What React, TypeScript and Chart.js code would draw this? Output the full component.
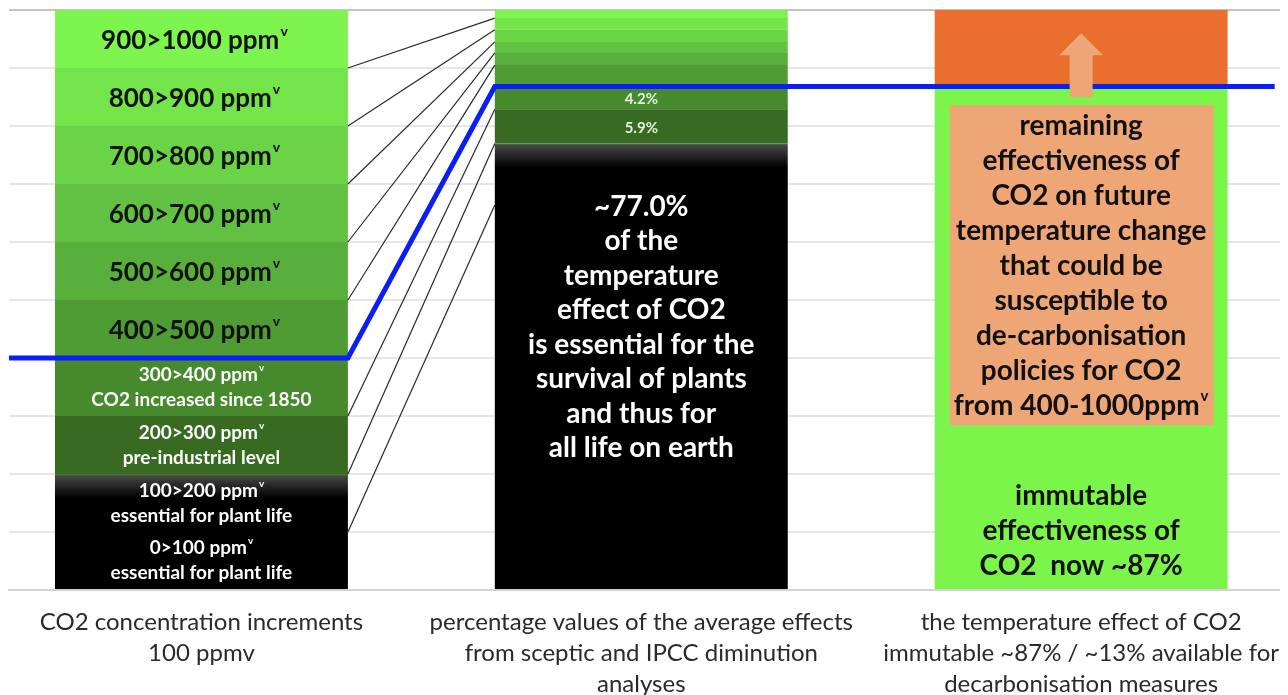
import React, { useEffect, useRef } from 'react';
import { Chart, registerables } from 'chart.js';

Chart.register(...registerables);

const FONT = 'Lato, "Open Sans", sans-serif';

// x-axis categories (three bars)
const CATEGORY_LABELS: string[][] = [
  ['CO2 concentration increments', '100 ppmv'],
  ['percentage values of the average effects', 'from sceptic and IPCC diminution', 'analyses'],
  ['the temperature effect of CO2', 'immutable ~87% / ~13% available for', 'decarbonisation measures'],
];

// left bar: CO2 concentration increments of 100 ppmv (bottom → top)
const LEFT_VALUES = [10, 10, 10, 10, 10, 10, 10, 10, 10, 10];
const LEFT_LABELS: string[][] = [
  ['0>100 ppm^v', 'essential for plant life'],
  ['100>200 ppm^v', 'essential for plant life'],
  ['200>300 ppm^v', 'pre-industrial level'],
  ['300>400 ppm^v', 'CO2 increased since 1850'],
  ['400>500 ppm^v'],
  ['500>600 ppm^v'],
  ['600>700 ppm^v'],
  ['700>800 ppm^v'],
  ['800>900 ppm^v'],
  ['900>1000 ppm^v'],
];

// middle bar: % of the CO2 temperature effect per increment (bottom → top)
const MIDDLE_VALUES = [66.4, 10.6, 5.9, 4.2, 3.4, 2.1, 1.9, 2.1, 2.0, 1.4];
const MIDDLE_LABELS = ['', '', '5.9%', '4.2%', '', '', '', '', '', ''];
const MIDDLE_TEXT = [
  '~77.0%', 'of the', 'temperature', 'effect of CO2', 'is essential for the',
  'survival of plants', 'and thus for', 'all life on earth',
];

// right bar: immutable / remaining effectiveness
const RIGHT_VALUES = [87, 13];
const RIGHT_BOX_TEXT = [
  'remaining', 'effectiveness of', 'CO2 on future', 'temperature change', 'that could be',
  'susceptible to', 'de-carbonisation', 'policies for CO2', 'from 400-1000ppm^v',
];
const RIGHT_BASE_TEXT = ['immutable', 'effectiveness of', 'CO2  now ~87%'];

// blue "current level" line: 400 ppmv on the left bar, ~87% on middle/right bars
const CURRENT_LINE_Y = [40, 40, 86.8, 86.8];

// colours per increment (bottom → top)
const INCREMENT_COLORS = ['#000000', '#000000', '#386B21', '#47892D', '#4F9C34', '#58AF3B', '#62C142', '#6AD346', '#73E44A', '#7EF54E'];
const FADE_INDEX = 1;
const RIGHT_COLORS = ['#7CF54B', '#EA6E2E'];
const SALMON = '#EFA676';

const X_MIN = -0.4375;
const X_MAX = 2.4693;
const BAR_FRAC = 0.666;

function cumulative(values: number[]): number[][] {
  let acc = 0;
  return values.map((v) => {
    const seg = [acc, acc + v];
    acc += v;
    return seg;
  });
}

const fadeBg = (c: any) => {
  const chart = c.chart;
  const raw = c.raw;
  if (!chart.chartArea || !raw || !chart.scales.y) return '#000';
  const top = chart.scales.y.getPixelForValue(raw.y[1]);
  if (!isFinite(top)) return '#000';
  const g = chart.ctx.createLinearGradient(0, top, 0, top + 24);
  g.addColorStop(0, '#4d7a38');
  g.addColorStop(0.1, '#454545');
  g.addColorStop(1, '#000000');
  return g;
};

function drawLine(ctx: CanvasRenderingContext2D, text: string, cx: number, cy: number, size: number, weight: string, color: string) {
  const sup = text.endsWith('^v');
  const main = sup ? text.slice(0, -2) : text;
  ctx.font = `${weight} ${size}px ${FONT}`;
  const w = ctx.measureText(main).width;
  const supSize = Math.round(size * 0.55);
  let supW = 0;
  if (sup) {
    ctx.font = `${weight} ${supSize}px ${FONT}`;
    supW = ctx.measureText('v').width + 1;
  }
  const start = cx - (w + supW) / 2;
  ctx.fillStyle = color;
  ctx.textBaseline = 'middle';
  ctx.textAlign = 'left';
  ctx.font = `${weight} ${size}px ${FONT}`;
  ctx.fillText(main, start, cy);
  if (sup) {
    ctx.font = `${weight} ${supSize}px ${FONT}`;
    ctx.fillText('v', start + w + 1, cy - size * 0.36);
  }
}

function drawBlock(ctx: CanvasRenderingContext2D, lines: string[], cx: number, cy: number, size: number, lh: number, weight: string, color: string) {
  const n = lines.length;
  lines.forEach((t, i) => drawLine(ctx, t, cx, cy + (i - (n - 1) / 2) * lh, size, weight, color));
}

function makeTextPlugin(groups: { left: number[]; mid: number[]; right: number[] }) {
  return {
    id: 'textPlugin',
    afterDatasetsDraw(chart: any) {
      const ctx: CanvasRenderingContext2D = chart.ctx;
      const ys = chart.scales.y;
      ctx.save();
      // left bar labels
      groups.left.forEach((di, i) => {
        const el = chart.getDatasetMeta(di).data[0];
        if (!el) return;
        const cy = (el.y + el.base) / 2;
        const lines = LEFT_LABELS[i];
        if (lines.length > 1) drawBlock(ctx, lines, el.x, cy, 19, 25, 'bold', '#ffffff');
        else drawBlock(ctx, lines, el.x - 7, cy + 2, 26, 25, 'bold', '#111111');
      });
      // middle bar labels
      groups.mid.forEach((di, i) => {
        if (!MIDDLE_LABELS[i]) return;
        const el = chart.getDatasetMeta(di).data[0];
        if (!el) return;
        drawLine(ctx, MIDDLE_LABELS[i], el.x, (el.y + el.base) / 2 + 2, 15, 'bold', '#e8f0e0');
      });
      const midEl = chart.getDatasetMeta(groups.mid[0]).data[0];
      if (midEl) drawBlock(ctx, MIDDLE_TEXT, midEl.x, ys.getPixelForValue(45.3), 28, 34.5, 'bold', '#ffffff');

      // right bar: arrow, box and texts
      const rEl = chart.getDatasetMeta(groups.right[0]).data[0];
      if (rEl) {
        const rx = rEl.x;
        const left = rx - rEl.width / 2 + 15;
        const right = rx + rEl.width / 2 - 14;
        ctx.fillStyle = SALMON;
        const headTop = ys.getPixelForValue(96);
        const headBase = ys.getPixelForValue(92.2);
        const shaftBottom = ys.getPixelForValue(85);
        ctx.beginPath();
        ctx.moveTo(rx, headTop);
        ctx.lineTo(rx + 22, headBase);
        ctx.lineTo(rx + 11.5, headBase);
        ctx.lineTo(rx + 11.5, shaftBottom);
        ctx.lineTo(rx - 11.5, shaftBottom);
        ctx.lineTo(rx - 11.5, headBase);
        ctx.lineTo(rx - 22, headBase);
        ctx.closePath();
        ctx.fill();
        const boxTop = ys.getPixelForValue(83.6);
        const boxBottom = ys.getPixelForValue(28.4);
        ctx.fillRect(left, boxTop, right - left, boxBottom - boxTop);
        drawBlock(ctx, RIGHT_BOX_TEXT, rx, (boxTop + boxBottom) / 2 + 1, 28, 35, 'bold', '#111111');
        drawBlock(ctx, RIGHT_BASE_TEXT, rx, ys.getPixelForValue(10.2), 28, 35, 'bold', '#111111');
      }
      ctx.restore();
    },
  };
}

export default function App() {
  const ref = useRef<HTMLCanvasElement>(null);
  useEffect(() => {
    if (!ref.current) return;
    const leftSegs = cumulative(LEFT_VALUES);
    const midSegs = cumulative(MIDDLE_VALUES);
    const rightSegs = cumulative(RIGHT_VALUES);
    const datasets: any[] = [];
    const groups = { left: [] as number[], mid: [] as number[], right: [] as number[] };
    const bar = (x: number, range: number[], color: any) => ({
      type: 'bar',
      data: [{ x, y: range }],
      backgroundColor: color,
      borderWidth: 0,
      grouped: false,
      barPercentage: BAR_FRAC,
      categoryPercentage: 1,
      order: 3,
    });
    leftSegs.forEach((r, i) => {
      groups.left.push(datasets.length);
      datasets.push(bar(0, r, i === FADE_INDEX ? fadeBg : INCREMENT_COLORS[i]));
    });
    midSegs.forEach((r, i) => {
      groups.mid.push(datasets.length);
      datasets.push(bar(1, r, i === FADE_INDEX ? fadeBg : INCREMENT_COLORS[i]));
    });
    rightSegs.forEach((r, i) => {
      groups.right.push(datasets.length);
      datasets.push(bar(2, r, RIGHT_COLORS[i]));
    });
    const leftEdge = BAR_FRAC / 2;
    const midEdge = 1 - BAR_FRAC / 2;
    // connecting lines: each ppm increment boundary → its cumulative % on middle bar
    for (let k = 1; k < LEFT_VALUES.length; k++) {
      datasets.push({
        type: 'line',
        data: [
          { x: leftEdge, y: leftSegs[k][0] },
          { x: midEdge, y: midSegs[k][0] },
        ],
        borderColor: '#2a2a2a',
        borderWidth: 1.2,
        pointRadius: 0,
        order: 2,
      });
    }
    const blueX = [X_MIN, leftEdge, midEdge, 2.44];
    datasets.push({
      type: 'line',
      data: CURRENT_LINE_Y.map((y, i) => ({ x: blueX[i], y })),
      borderColor: '#0a1ef5',
      borderWidth: 5,
      pointRadius: 0,
      borderJoinStyle: 'miter',
      order: 1,
      clip: false,
    });

    const chart: any = new Chart(ref.current, {
      type: 'bar',
      data: { datasets },
      options: {
        animation: false,
        responsive: true,
        maintainAspectRatio: false,
        layout: { padding: { top: 2, left: 1, right: 0, bottom: 0 } },
        plugins: { legend: { display: false }, tooltip: { enabled: false } },
        events: [],
        scales: {
          x: {
            type: 'linear',
            min: X_MIN,
            max: X_MAX,
            offset: false,
            grid: { display: false, offset: false },
            border: { display: true, color: '#d2d2d2', width: 2 },
            afterBuildTicks: (axis: any) => {
              axis.ticks = CATEGORY_LABELS.map((_, i) => ({ value: i }));
            },
            afterFit: (axis: any) => {
              axis.height = 105;
            },
            ticks: {
              autoSkip: false,
              maxRotation: 0,
              minRotation: 0,
              padding: 9,
              color: '#2a2a2a',
              font: { family: FONT, size: 24, lineHeight: 1.29 },
              callback: (v: any) => CATEGORY_LABELS[v as number] ?? '',
            },
          },
          y: {
            min: 0,
            max: 100,
            ticks: { display: false, stepSize: 10 },
            border: { display: false },
            grid: {
              drawTicks: false,
              color: (c: any) => (c.tick && c.tick.value === 100 ? '#c4c4c4' : '#e6e6e6'),
              lineWidth: 2,
            },
          },
        },
      },
      plugins: [makeTextPlugin(groups)],
    });
    return () => chart.destroy();
  }, []);
  return (
    <div style={{ width: 1280, height: 687, position: 'relative' }}>
      <canvas ref={ref} />
    </div>
  );
}
